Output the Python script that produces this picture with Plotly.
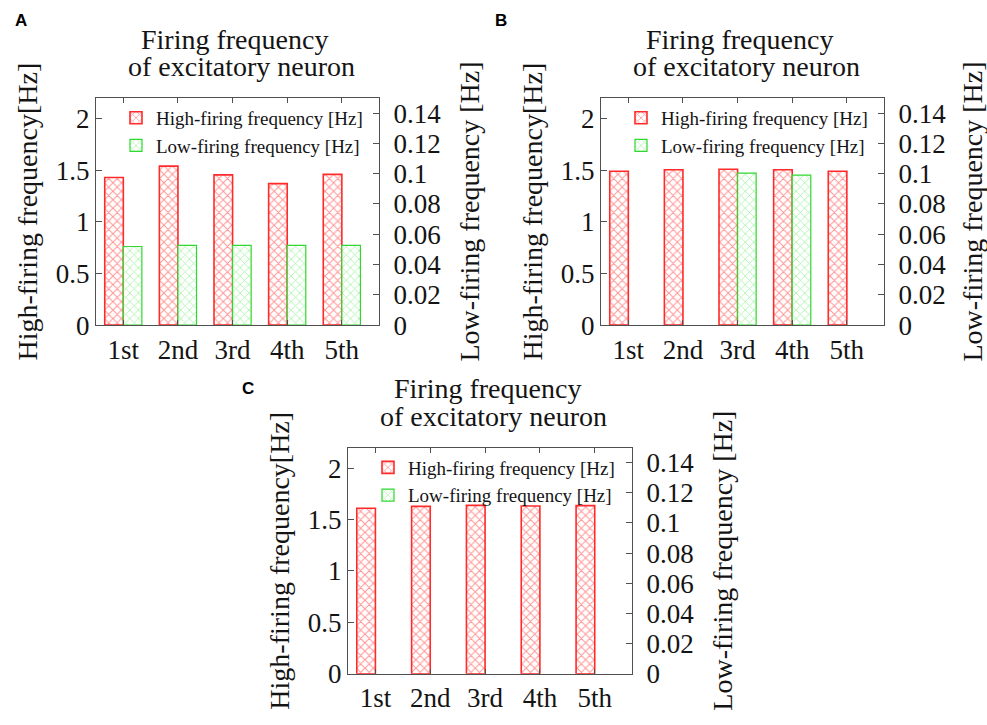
import plotly.graph_objects as go

W, H = 987, 725

categories = ["1st", "2nd", "3rd", "4th", "5th"]

high_A = [1.43, 1.54, 1.455, 1.37, 1.46]
low_A = [0.0519, 0.0526, 0.0526, 0.0526, 0.0526]

high_B = [1.49, 1.505, 1.51, 1.505, 1.49]
low_B = [0.0, 0.0, 0.1003, 0.099, 0.0]

high_C = [1.61, 1.628, 1.638, 1.632, 1.635]
low_C = [0.0, 0.0, 0.0, 0.0, 0.0]

left_tickvals = [0, 0.5, 1, 1.5, 2]
left_ticktext = ["0", "0.5", "1", "1.5", "2"]
right_tickvals = [0, 0.02, 0.04, 0.06, 0.08, 0.1, 0.12, 0.14]
right_ticktext = ["0", "0.02", "0.04", "0.06", "0.08", "0.1", "0.12", "0.14"]

title_line1 = "Firing frequency"
title_line2 = "of excitatory neuron"
left_title = "High-firing frequency[Hz]"
right_title = "Low-firing frequency [Hz]"
high_name = "High-firing frequency [Hz]"
low_name = "Low-firing frequency [Hz]"

SERIF = "Liberation Serif"
SANS = "Liberation Sans"
TXT = "#141414"
AXC = "#505050"
RED = "#ff2a2a"
GREEN = "#2fd82f"


def px(x):
    return x / W


def py(y):
    return 1 - y / H


def visible(vals):
    # zero-height bars are not drawn at all (no outline at the baseline)
    return [v if v > 0 else None for v in vals]


# panel plot-area boxes in pixels: (left, right, top, bottom)
panels = [
    dict(label="A", box=(96, 379, 100, 332), high=high_A, low=low_A),
    dict(label="B", box=(601, 884, 100, 332), high=high_B, low=low_B),
    dict(label="C", box=(348, 632, 457, 688), high=high_C, low=low_C),
]
label_pos = {"A": (21, 21), "B": (501, 21), "C": (248, 397)}

fig = go.Figure()
annotations = []
layout = dict(
    width=W, height=H, margin=dict(l=0, r=0, t=0, b=0),
    paper_bgcolor="white", plot_bgcolor="white",
    barmode="overlay", showlegend=True,
)

for i, p in enumerate(panels):
    L, R, T, B = p["box"]
    xa = "x" if i == 0 else f"x{i+1}"
    ya_l = f"y{2*i+1}" if i > 0 else "y"
    ya_r = f"y{2*i+2}"
    leg = "legend" if i == 0 else f"legend{i+1}"

    fig.add_trace(go.Bar(
        x=categories, y=visible(p["high"]), name=high_name,
        xaxis=xa, yaxis=ya_l, legend=leg,
        width=0.34, offset=-0.34,
        marker=dict(color="white",
                    line=dict(color=RED, width=1.6),
                    pattern=dict(shape="x", fgcolor=RED, bgcolor="white",
                                 size=6, solidity=0.3)),
    ))
    fig.add_trace(go.Bar(
        x=categories, y=visible(p["low"]), name=low_name,
        xaxis=xa, yaxis=ya_r, legend=leg,
        width=0.34, offset=0.0,
        marker=dict(color="white",
                    line=dict(color=GREEN, width=1.2),
                    pattern=dict(shape="x", fgcolor="#4ee84e", bgcolor="white",
                                 size=6, solidity=0.25)),
    ))

    xkey = "xaxis" if i == 0 else f"xaxis{i+1}"
    ylkey = "yaxis" if i == 0 else f"yaxis{2*i+1}"
    yrkey = f"yaxis{2*i+2}"
    layout[xkey] = dict(
        domain=[px(L), px(R)], anchor=ya_l, range=[-0.5, 4.68],
        type="category", categoryorder="array", categoryarray=categories,
        showline=True, linecolor=AXC, linewidth=1.3, mirror="ticks",
        ticks="inside", ticklen=5, tickcolor=AXC, tickwidth=1.2,
        ticklabelstandoff=0,
        tickfont=dict(family=SERIF, size=27, color=TXT),
        showgrid=False, zeroline=False, fixedrange=True,
    )
    layout[ylkey] = dict(
        domain=[py(B), py(T)], anchor=xa, range=[0, 2.2],
        tickvals=left_tickvals, ticktext=left_ticktext,
        showline=True, linecolor=AXC, linewidth=1.3,
        ticks="inside", ticklen=6, tickcolor=AXC, tickwidth=1.2,
        tickfont=dict(family=SERIF, size=27, color=TXT),
        showgrid=False, zeroline=False,
    )
    layout[yrkey] = dict(
        overlaying=ya_l, anchor=xa, side="right", range=[0, 0.15],
        tickvals=right_tickvals, ticktext=right_ticktext,
        showline=True, linecolor=AXC, linewidth=1.3,
        ticks="inside", ticklen=6, tickcolor=AXC, tickwidth=1.2,
        ticklabelstandoff=8,
        tickfont=dict(family=SERIF, size=27, color=TXT),
        showgrid=False, zeroline=False,
    )
    layout[leg] = dict(
        x=px(L + 20), y=py(T + 1), xanchor="left", yanchor="top",
        bgcolor="rgba(0,0,0,0)", borderwidth=0,
        font=dict(family=SERIF, size=19, color=TXT),
        tracegroupgap=0, itemclick=False, itemdoubleclick=False,
    )

    cx = (L + R) / 2
    cy = (T + B) / 2
    annotations += [
        dict(text=title_line1, x=px(cx - 3), y=py(T - 60), xref="paper", yref="paper",
             xanchor="center", yanchor="middle", showarrow=False,
             font=dict(family=SERIF, size=28, color=TXT)),
        dict(text=title_line2, x=px(cx + 3.5), y=py(T - 32), xref="paper", yref="paper",
             xanchor="center", yanchor="middle", showarrow=False,
             font=dict(family=SERIF, size=28, color=TXT)),
        dict(text=left_title, x=px(L - 68), y=py(cy), xref="paper", yref="paper",
             xanchor="center", yanchor="middle", textangle=-90, showarrow=False,
             font=dict(family=SERIF, size=28, color=TXT)),
        dict(text=right_title, x=px(min(R + 91, W - 14)), y=py(cy), xref="paper", yref="paper",
             xanchor="center", yanchor="middle", textangle=-90, showarrow=False,
             font=dict(family=SERIF, size=28, color=TXT)),
    ]
    lx, ly = label_pos[p["label"]]
    annotations.append(dict(
        text="<b>" + p["label"] + "</b>", x=px(lx), y=py(ly), xref="paper", yref="paper",
        xanchor="center", yanchor="middle", showarrow=False,
        font=dict(family=SANS, size=17, color="black")))

layout["annotations"] = annotations
fig.update_layout(**layout)
fig.write_html("out.html")
